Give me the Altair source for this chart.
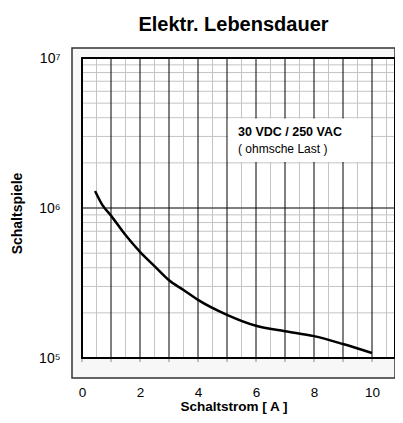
import altair as alt
import pandas as pd

# ---- data ----
current = [0.45, 0.7, 1.0, 1.5, 2.0, 2.5, 3.0, 3.5, 4.0, 5.0, 6.0, 7.0, 8.0, 9.0, 10.0]
cycles = [1.30e6, 1.05e6, 0.89e6, 0.66e6, 0.51e6, 0.41e6, 0.33e6, 0.284e6, 0.244e6,
          0.194e6, 0.164e6, 0.151e6, 0.140e6, 0.124e6, 0.108e6]

x_major = list(range(1, 11))
x_minor = [i + 0.5 for i in range(0, 11)]
y_major = [1e6]
y_minor = [m * d for d in (1e5, 1e6) for m in range(2, 10)]
x_ticks = list(range(0, 11))
x_labels = [0, 2, 4, 6, 8, 10]
y_ticks = [1e5, 1e6, 1e7]

note_lines = ["30 VDC / 250 VAC", "( ohmsche Last )"]
note_weights = ["bold", "normal"]

FONT = "Liberation Sans"
# the view is the grey outer frame; the white grid area sits inside it
W, H = 323, 330
XMIN, XMAX = -0.345, 10.793
YMIN, YMAX = 7.36e4, 1.166e7
X0 = 0.0
Y0, Y1 = 1e5, 1e7
TICK_END = 9.4e4

xscale = alt.Scale(domain=[XMIN, XMAX], nice=False, zero=False)
yscale = alt.Scale(type="log", domain=[YMIN, YMAX], nice=False)

xaxis = alt.Axis(values=x_labels, grid=False, domain=False, ticks=False,
                 labelPadding=7, labelFont=FONT, labelFontSize=13.5, labelColor="black",
                 title="Schaltstrom [ A ]", titleFont=FONT, titleFontSize=13.5,
                 titleFontWeight="bold", titleColor="black", titlePadding=1, labelFlush=False)
yaxis = alt.Axis(values=y_ticks,
                 labelExpr="datum.value >= 9e6 ? '10\u2077' : (datum.value >= 9e5 ? '10\u2076' : '10\u2075')",
                 grid=False, domain=False, ticks=False, labelPadding=12,
                 labelFont=FONT, labelFontSize=14, labelColor="black",
                 title="Schaltspiele", titleFont=FONT, titleFontSize=14,
                 titleFontWeight="bold", titleColor="black", titlePadding=14, labelFlush=False)


def X(field="x"):
    return alt.X(f"{field}:Q", scale=xscale, axis=xaxis)


def Y(field="y"):
    return alt.Y(f"{field}:Q", scale=yscale, axis=yaxis)


def box(x0, x1, y0, y1):
    return pd.DataFrame({"x": [x0], "x2": [x1], "y": [y0], "y2": [y1]})


plot_bg = alt.Chart(box(X0, XMAX, Y0, Y1)).mark_rect(fill="white").encode(
    x=X(), x2="x2:Q", y=Y(), y2="y2:Q")

minor_v = alt.Chart(pd.DataFrame({"x": x_minor, "y": Y0, "y2": Y1})).mark_rule(
    color="#c4c4c4", strokeWidth=1).encode(x=X(), y=Y(), y2="y2:Q")
minor_h = alt.Chart(pd.DataFrame({"y": y_minor, "x": X0, "x2": XMAX})).mark_rule(
    color="#c4c4c4", strokeWidth=1).encode(y=Y(), x=X(), x2="x2:Q")
major_h = alt.Chart(pd.DataFrame({"y": y_major, "x": X0, "x2": XMAX})).mark_rule(
    color="#555555", strokeWidth=1.5).encode(y=Y(), x=X(), x2="x2:Q")
major_v = alt.Chart(pd.DataFrame({"x": x_major, "y": Y0, "y2": Y1})).mark_rule(
    color="black", strokeWidth=1).encode(x=X(), y=Y(), y2="y2:Q")

ticks = alt.Chart(pd.DataFrame({"x": x_ticks, "y": TICK_END, "y2": Y0})).mark_rule(
    color="#888888", strokeWidth=1).encode(x=X(), y=Y(), y2="y2:Q")

note_box = alt.Chart(box(5.03, 9.97, 2.03e6, 3.95e6)).mark_rect(fill="white").encode(
    x=X(), x2="x2:Q", y=Y(), y2="y2:Q")

note_df = pd.DataFrame({"x": [5.38, 5.38], "y": [3.19e6, 2.47e6],
                        "t": note_lines, "w": note_weights})
note_bold = alt.Chart(note_df[note_df.w == "bold"]).mark_text(
    align="left", baseline="middle", font=FONT, fontSize=12.5, fontWeight="bold", color="black").encode(
    x=X(), y=Y(), text="t:N")
note_norm = alt.Chart(note_df[note_df.w == "normal"]).mark_text(
    align="left", baseline="middle", font=FONT, fontSize=12, color="black").encode(
    x=X(), y=Y(), text="t:N")

border = alt.Chart(box(X0, XMAX, Y0, Y1)).mark_rect(
    fill=None, stroke="black", strokeWidth=2).encode(x=X(), x2="x2:Q", y=Y(), y2="y2:Q")

curve = alt.Chart(pd.DataFrame({"x": current, "y": cycles})).mark_line(
    color="black", strokeWidth=2.5, interpolate="monotone").encode(x=X(), y=Y())

chart = alt.layer(plot_bg, minor_v, minor_h, major_h, major_v, ticks, note_box,
                  note_bold, note_norm, border, curve).properties(
    width=W, height=H,
    title=alt.TitleParams("Elektr. Lebensdauer", font=FONT, fontSize=20, fontWeight="bold",
                          color="black", anchor="middle", offset=13),
    autosize=alt.AutoSizeParams(type="none"),
    padding={"left": 64, "top": 40, "right": 0, "bottom": 37},
).configure_view(stroke="#333333", strokeWidth=1.5, fill="#f7f7f7")

chart.save("out.html", embed_options={"renderer": "svg", "actions": False})
